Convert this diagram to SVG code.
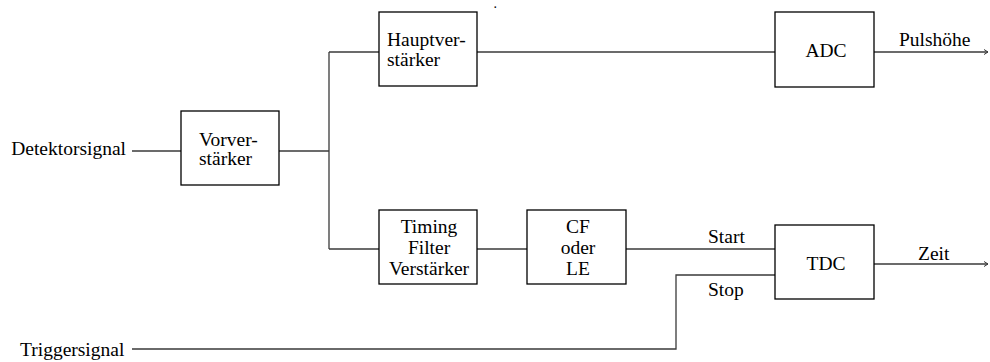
<svg xmlns="http://www.w3.org/2000/svg" width="990" height="362" viewBox="0 0 990 362">
  <style>
    .box { fill: #ffffff; stroke: #000000; stroke-width: 1.3; }
    .wire { fill: none; stroke: #3a3a3a; stroke-width: 1.3; }
    .t { font-family: 'Liberation Serif', serif; font-size: 19.5px; fill: #000000; }
    .c { text-anchor: middle; }
    .e { text-anchor: end; }
  </style>
  <defs>
    <marker id="tip" markerWidth="10" markerHeight="10" refX="8" refY="5" orient="auto" markerUnits="userSpaceOnUse">
      <path d="M4,2.5 L8,5 L4,7.5" fill="none" stroke="#3a3a3a" stroke-width="1"/>
    </marker>
  </defs>

  <!-- signal wiring -->
  <g id="connectors">
    <path class="wire" d="M132,151 H181"/>
    <path class="wire" d="M279,151 H329"/>
    <path class="wire" d="M329,52 V249"/>
    <path class="wire" d="M329,52 H379"/>
    <path class="wire" d="M477,52 H775"/>
    <path class="wire" d="M874,52 H988" marker-end="url(#tip)"/>
    <path class="wire" d="M329,249 H379"/>
    <path class="wire" d="M477,249 H527"/>
    <path class="wire" d="M626,249 H775"/>
    <path class="wire" d="M132,349 H676 V275 H775"/>
    <path class="wire" d="M874,264 H988" marker-end="url(#tip)"/>
  </g>

  <!-- external signals and line labels -->
  <g id="labels" font-family="Liberation Serif" font-size="19.5">
    <text class="t e" x="126" y="155">Detektorsignal</text>
    <text class="t" x="20" y="356">Triggersignal</text>
    <text class="t" x="899" y="46">Pulshöhe</text>
    <text class="t" x="918" y="260">Zeit</text>
    <text class="t" x="708" y="243">Start</text>
    <text class="t" x="708" y="296">Stop</text>
    <text class="t" x="494" y="8" style="font-size:10px;font-weight:bold">.</text>
  </g>

  <g id="vorverstaerker" font-family="Liberation Serif" font-size="19.5">
    <rect class="box" x="181" y="111" width="98" height="74"/>
    <text class="t" x="199" y="146">Vorver-</text>
    <text class="t" x="199" y="165">stärker</text>
  </g>

  <g id="hauptverstaerker" font-family="Liberation Serif" font-size="19.5">
    <rect class="box" x="379" y="12" width="98" height="74"/>
    <text class="t" x="387" y="46">Hauptver-</text>
    <text class="t" x="387" y="66">stärker</text>
  </g>

  <g id="adc" font-family="Liberation Serif" font-size="19.5">
    <rect class="box" x="775" y="12" width="99" height="75"/>
    <text class="t c" x="826" y="57">ADC</text>
  </g>

  <g id="timing-filter" font-family="Liberation Serif" font-size="19.5">
    <rect class="box" x="379" y="210" width="98" height="74"/>
    <text class="t c" x="429" y="233">Timing</text>
    <text class="t c" x="429" y="254">Filter</text>
    <text class="t c" x="429" y="275">Verstärker</text>
  </g>

  <g id="cf-le" font-family="Liberation Serif" font-size="19.5">
    <rect class="box" x="527" y="210" width="99" height="74"/>
    <text class="t c" x="578" y="233">CF</text>
    <text class="t c" x="578" y="254">oder</text>
    <text class="t c" x="578" y="275">LE</text>
  </g>

  <g id="tdc" font-family="Liberation Serif" font-size="19.5">
    <rect class="box" x="775" y="225" width="99" height="74"/>
    <text class="t c" x="826" y="270">TDC</text>
  </g>
</svg>
